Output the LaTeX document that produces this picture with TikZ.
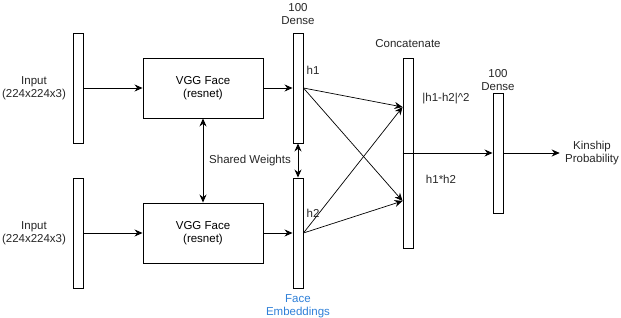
\documentclass[tikz,border=0pt]{standalone}
\usepackage{fontspec}
\setmainfont{Liberation Sans}
\usepackage{xcolor}
\definecolor{embblue}{HTML}{2F80D8}
\usetikzlibrary{positioning,arrows.meta,calc}

\begin{document}
\begin{tikzpicture}[
  x=1pt, y=-1pt, line width=0.9pt,
  font=\fontsize{11.5}{13.5}\selectfont,
  bar/.style={draw, fill=white, inner sep=0pt, minimum width=10pt, minimum height=#1},
  bar/.default=110pt,
  blk/.style={draw, fill=white, align=center, minimum width=120pt, minimum height=60pt},
  lbl/.style={align=center, inner sep=1pt, text=black!85},
  arr/.style={-{Stealth[length=8pt,width=7pt]}},
  thinarr/.style={-{Stealth[length=8pt,width=7pt]}, line width=0.7pt},
  darr/.style={{Stealth[length=8pt,width=7pt]}-{Stealth[length=8pt,width=7pt]}}
]
\useasboundingbox (0,0) rectangle (621,318);

% two input branches
\node[bar] (in1) at (78,88) {};
\node[bar] (in2) at (78,233) {};
\node[lbl] (inlbl1) at (34,88) {Input\\(224x224x3)};
\node[lbl] (inlbl2) at (34,233) {Input\\(224x224x3)};

\node[blk] (vgg1) at (203,88) {VGG Face\\(resnet)};
\node[blk] (vgg2) at (203,233) {VGG Face\\(resnet)};

% embedding layers
\node[bar] (h1) at (298,88) {};
\node[bar] (h2) at (298,233) {};
\node[lbl] (d1lbl) at (298,14) {100\\Dense};
\node[lbl, text=embblue] (emb) at (298,306) {Face\\Embeddings};
\node[lbl] (h1lbl) at (313,70) {h1};
\node[lbl] (h2lbl) at (313,213) {h2};
\node[lbl] (shared) at (250,161) {Shared Weights};

% merge and head
\node[bar=190pt] (cat) at (408,153) {};
\node[lbl] (catlbl) at (408,44) {Concatenate};
\node[lbl] (sqlbl) at (446,99) {|h1-h2|\^{}2};
\node[lbl] (prodlbl) at (441,179) {h1*h2};

\node[bar=120pt] (dense) at (498,153) {};
\node[lbl] (d2lbl) at (498,80) {100\\Dense};
\node[lbl] (kin) at (592,153) {Kinship\\Probability};

\draw[arr] (in1) -- (vgg1);
\draw[arr] (in2) -- (vgg2);
\draw[arr] (vgg1) -- (h1);
\draw[arr] (vgg2) -- (h2);
\draw[darr] (vgg1) -- (vgg2);
\draw[darr] (h1) -- (h2);

\draw[thinarr] (h1.east) -- ([yshift=46pt]cat.west);
\draw[thinarr] (h1.east) -- ([yshift=-48pt]cat.west);
\draw[thinarr] (h2.east) -- ([yshift=46pt]cat.west);
\draw[thinarr] (h2.east) -- ([yshift=-48pt]cat.west);

\draw[arr] (cat.west) -- (dense.west);
\draw[arr] (dense.east) -- ([xshift=-4pt]kin.west);
\end{tikzpicture}
\end{document}
